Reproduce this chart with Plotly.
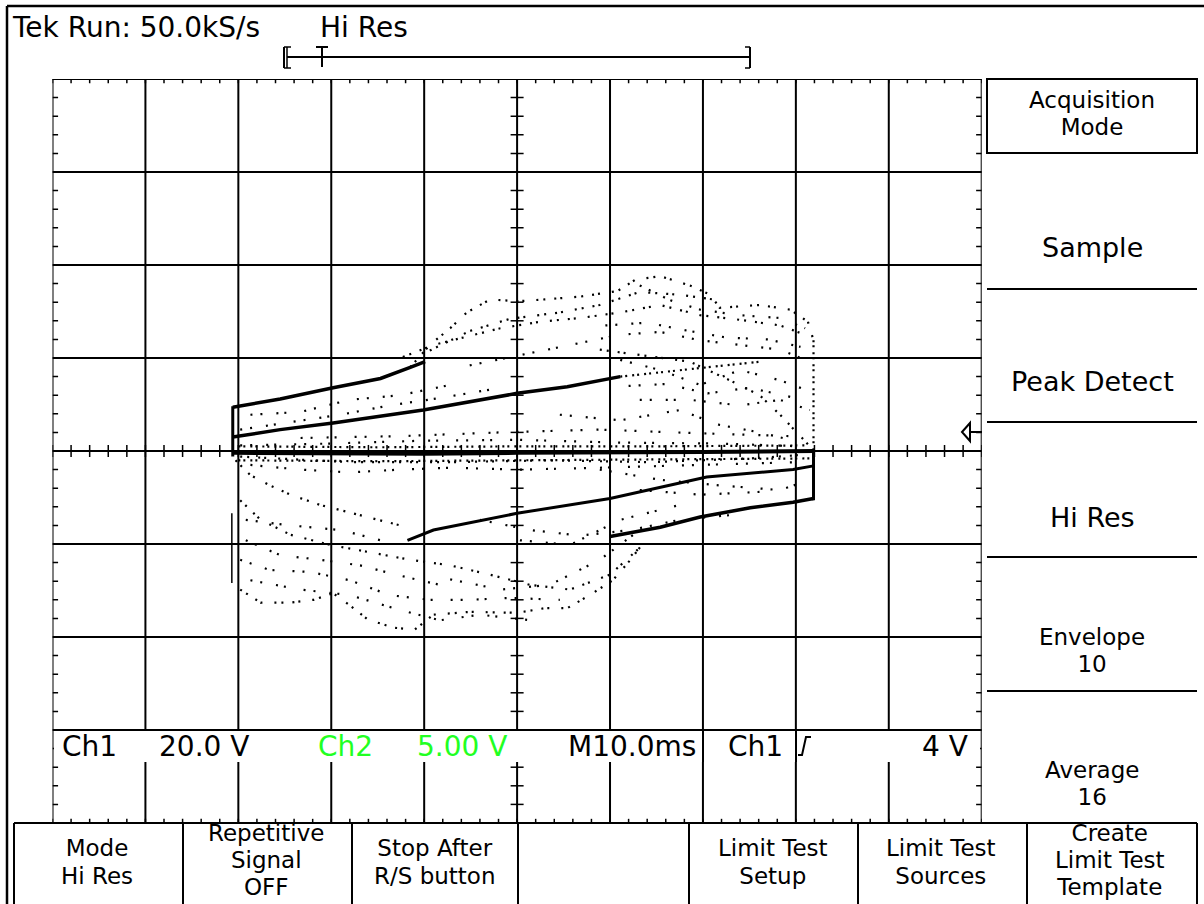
import plotly.graph_objects as go

W, H = 1204, 904
FONT = "DejaVu Sans"
INK = "#000000"
GREEN = "#22ff22"

# ---------------- X-Y display data (graticule divisions: X = Ch1, Y = Ch2) ----------------
# dense traces
axis_trace_x = [-3.06, -2.00, -1.00, 0.00, 1.00, 2.00, 3.20]
axis_trace_y = [-0.02, -0.03, -0.03, -0.02, -0.02, -0.01, 0.00]
axis_fringe_hi_x = [-3.00, -1.50, 0.00, 1.50, 3.10]
axis_fringe_hi_y = [0.05, 0.04, 0.05, 0.05, 0.06]
axis_fringe_lo_x = [-3.00, -1.50, 0.00, 1.50, 3.15]
axis_fringe_lo_y = [-0.10, -0.11, -0.10, -0.09, -0.08]

left_edge_hi_x = [-3.06, -3.06]
left_edge_hi_y = [0.48, -0.06]
left_edge_lo_x = [-3.07, -3.07]
left_edge_lo_y = [-0.67, -1.42]
right_edge_lo_x = [3.19, 3.19]
right_edge_lo_y = [0.02, -0.53]
right_edge_hi_x = [3.19, 3.19]
right_edge_hi_y = [1.19, 0.02]

upper_top_x = [-3.06, -2.55, -1.98, -1.47, -1.15, -0.99]
upper_top_y = [0.47, 0.56, 0.68, 0.78, 0.90, 0.96]
upper_mid_x = [-3.06, -2.55, -1.98, -1.01, 0.00, 0.54, 1.11]
upper_mid_y = [0.15, 0.23, 0.30, 0.44, 0.62, 0.69, 0.80]
upper_mid_tail_x = [1.11, 1.97, 2.61]
upper_mid_tail_y = [0.80, 0.89, 0.96]
lower_mid_x = [-1.18, -0.90, 0.00, 1.00, 2.04, 2.97, 3.19]
lower_mid_y = [-0.96, -0.85, -0.67, -0.51, -0.28, -0.20, -0.16]
lower_bot_x = [1.00, 1.54, 1.97, 2.51, 2.97, 3.19]
lower_bot_y = [-0.92, -0.82, -0.71, -0.61, -0.55, -0.51]

# scattered point clouds (traced as dotted paths)
upper_env_x = [-1.15, -0.94, -0.72, -0.54, -0.29, 0.00, 0.30, 0.68, 1.08, 1.27, 1.54, 1.86, 2.08, 2.18, 2.61, 2.94, 3.13, 3.19]
upper_env_y = [0.90, 1.14, 1.32, 1.49, 1.63, 1.61, 1.63, 1.66, 1.72, 1.84, 1.88, 1.78, 1.68, 1.54, 1.57, 1.52, 1.39, 1.19]
cloud_u1_x = [-1.23, -0.90, -0.54, -0.18, 0.25, 0.68, 1.11, 1.54, 1.97, 2.40, 2.83, 3.10]
cloud_u1_y = [1.01, 1.14, 1.23, 1.32, 1.39, 1.43, 1.49, 1.57, 1.46, 1.41, 1.35, 1.25]
cloud_u2_x = [-0.51, 0.03, 0.57, 1.11, 1.54, 1.97, 2.40, 2.83, 3.10]
cloud_u2_y = [0.92, 1.03, 1.14, 1.25, 1.28, 1.19, 1.14, 1.09, 0.98]
cloud_u3_x = [0.89, 1.32, 1.86, 2.29, 2.61, 2.83, 3.04, 3.17]
cloud_u3_y = [1.09, 1.03, 0.96, 0.76, 0.60, 0.39, 0.17, 0.03]
cloud_u4_x = [0.46, 1.11, 1.75, 2.18, 2.61, 2.94]
cloud_u4_y = [0.39, 0.33, 0.44, 0.28, 0.20, 0.12]
cloud_u5_x = [-2.87, -2.33, -1.80, -1.26, -0.72]
cloud_u5_y = [0.39, 0.42, 0.55, 0.60, 0.71]
cloud_u6_x = [-2.98, -2.01, -1.04, 0.03, 1.11, 2.18, 3.04]
cloud_u6_y = [0.06, 0.08, 0.11, 0.12, 0.09, 0.08, 0.05]
cloud_u7_x = [-0.94, -0.51, -0.08, 0.46, 0.89, 1.32, 1.75, 2.18]
cloud_u7_y = [1.08, 1.29, 1.42, 1.49, 1.57, 1.71, 1.68, 1.62]
cloud_u8_x = [1.32, 1.65, 1.97, 2.40, 2.83, 3.10]
cloud_u8_y = [1.78, 1.62, 1.52, 1.46, 1.43, 1.32]
cloud_u9_x = [1.11, 1.54, 1.97, 2.40, 2.83, 3.10]
cloud_u9_y = [0.98, 0.87, 0.71, 0.87, 0.76, 0.66]
cloud_u10_x = [1.32, 1.86, 2.40, 2.83, 3.15]
cloud_u10_y = [0.55, 0.55, 0.49, 0.55, 0.44]
cloud_u11_x = [-2.98, -2.44, -1.90, -1.37, -0.83, -0.29]
cloud_u11_y = [0.23, 0.31, 0.39, 0.49, 0.57, 0.66]
cloud_u12_x = [-2.33, -1.26, -0.18, 0.89, 1.97, 2.94]
cloud_u12_y = [0.14, 0.16, 0.20, 0.23, 0.19, 0.16]
cloud_u13_x = [0.95, 1.40, 1.80, 2.25, 2.70, 3.05]
cloud_u13_y = [1.35, 1.38, 1.30, 1.22, 1.20, 1.12]
cloud_u14_x = [1.20, 1.60, 2.05, 2.50, 2.95]
cloud_u14_y = [0.70, 0.72, 0.62, 0.68, 0.58]

lower_env_x = [-2.98, -2.76, -2.44, -2.19, -1.98, -1.80, -1.61, -1.33, -1.10, -0.90, -0.51, 0.00, 0.30, 0.54, 0.78, 1.03, 1.22, 1.38]
lower_env_y = [-1.49, -1.63, -1.63, -1.60, -1.53, -1.66, -1.81, -1.90, -1.92, -1.76, -1.73, -1.74, -1.69, -1.69, -1.55, -1.39, -1.17, -0.96]
cloud_l1_x = [-3.03, -2.87, -2.66, -2.44, -2.12, -1.69, -1.26]
cloud_l1_y = [-0.10, -0.26, -0.37, -0.47, -0.58, -0.69, -0.80]
cloud_l2_x = [-2.98, -2.76, -2.44, -2.01, -1.58, -1.15, -0.72, -0.29, 0.14, 0.57, 1.00, 1.32]
cloud_l2_y = [-0.53, -0.74, -0.90, -1.01, -1.09, -1.17, -1.23, -1.33, -1.44, -1.49, -1.33, -1.04]
cloud_l3_x = [-2.98, -2.66, -2.23, -1.80, -1.37, -0.94, -0.51, -0.08, 0.46]
cloud_l3_y = [-1.17, -1.28, -1.30, -1.39, -1.55, -1.60, -1.60, -1.58, -1.60]
cloud_l4_x = [-2.98, -1.80, -0.72, 0.35, 1.43, 2.51, 3.10]
cloud_l4_y = [-0.06, -0.12, -0.12, -0.10, -0.12, -0.08, -0.04]
cloud_l5_x = [0.89, 1.54, 2.18, 2.83, 3.15]
cloud_l5_y = [-0.20, -0.31, -0.37, -0.42, -0.31]
cloud_l6_x = [-0.40, 0.14, 0.68, 1.22, 1.75, 2.29]
cloud_l6_y = [-0.74, -0.85, -0.91, -0.85, -0.74, -0.69]
cloud_l7_x = [-2.92, -2.55, -2.12, -1.69, -1.26, -0.83]
cloud_l7_y = [-0.96, -1.12, -1.17, -1.23, -1.34, -1.44]
cloud_l8_x = [-2.87, -2.33, -1.80, -1.26, -0.72, 0.03, 0.89, 1.97, 3.04]
cloud_l8_y = [-0.15, -0.20, -0.23, -0.20, -0.18, -0.20, -0.18, -0.15, -0.12]
cloud_l9_x = [-2.92, -2.44, -1.90, -1.47]
cloud_l9_y = [-0.74, -0.80, -0.85, -0.96]
cloud_l10_x = [-2.87, -2.33, -1.80, -1.26, -0.83, -0.40, 0.14]
cloud_l10_y = [-1.39, -1.49, -1.55, -1.71, -1.82, -1.76, -1.82]
cloud_l11_x = [-0.72, -0.18, 0.35, 0.89, 1.32]
cloud_l11_y = [-1.38, -1.49, -1.44, -1.17, -0.85]
cloud_l12_x = [0.03, 0.57, 1.11, 1.75]
cloud_l12_y = [-0.96, -1.01, -0.74, -0.58]
cloud_l13_x = [1.32, 1.97, 2.61]
cloud_l13_y = [-0.42, -0.47, -0.44]

# ---------------- text content ----------------
status_text = "Tek Run: 50.0kS/s"
mode_text = "Hi Res"
readouts = ["Ch1", "20.0 V", "Ch2", "5.00 V", "M10.0ms", "Ch1", "4 V"]
side_menu = [["Acquisition", "Mode"], ["Sample"], ["Peak Detect"], ["Hi Res"], ["Envelope", "10"], ["Average", "16"]]
bottom_menu = [["Mode", "Hi Res"], ["Repetitive", "Signal", "OFF"], ["Stop After", "R/S button"], [],
               ["Limit Test", "Setup"], ["Limit Test", "Sources"], ["Create", "Limit Test", "Template"]]

# ---------------- figure ----------------
fig = go.Figure()

def add_path(x, y, width, dash="solid"):
    fig.add_trace(go.Scatter(x=x, y=y, mode="lines", hoverinfo="skip", showlegend=False,
                             line=dict(color=INK, width=width, dash=dash)))

DENSE = "2px,3px,2px,5px"
CLOUD = "2px,5px,2px,9px,2px,4px,2px,12px"
SPARSE = "2px,8px,2px,14px,2px,6px,2px,18px"

clouds = [
    (upper_env_x, upper_env_y, CLOUD), (cloud_u1_x, cloud_u1_y, CLOUD), (cloud_u2_x, cloud_u2_y, SPARSE),
    (cloud_u3_x, cloud_u3_y, CLOUD), (cloud_u4_x, cloud_u4_y, SPARSE), (cloud_u5_x, cloud_u5_y, SPARSE),
    (cloud_u6_x, cloud_u6_y, SPARSE), (cloud_u7_x, cloud_u7_y, CLOUD), (cloud_u8_x, cloud_u8_y, SPARSE),
    (cloud_u9_x, cloud_u9_y, SPARSE), (cloud_u10_x, cloud_u10_y, SPARSE), (cloud_u11_x, cloud_u11_y, SPARSE),
    (cloud_u12_x, cloud_u12_y, SPARSE), (cloud_u13_x, cloud_u13_y, SPARSE), (cloud_u14_x, cloud_u14_y, SPARSE),
    (lower_env_x, lower_env_y, CLOUD), (cloud_l1_x, cloud_l1_y, CLOUD), (cloud_l2_x, cloud_l2_y, CLOUD),
    (cloud_l3_x, cloud_l3_y, SPARSE), (cloud_l4_x, cloud_l4_y, CLOUD), (cloud_l5_x, cloud_l5_y, SPARSE),
    (cloud_l6_x, cloud_l6_y, SPARSE), (cloud_l7_x, cloud_l7_y, SPARSE), (cloud_l8_x, cloud_l8_y, SPARSE),
    (cloud_l9_x, cloud_l9_y, SPARSE), (cloud_l10_x, cloud_l10_y, SPARSE), (cloud_l11_x, cloud_l11_y, SPARSE),
    (cloud_l12_x, cloud_l12_y, SPARSE), (cloud_l13_x, cloud_l13_y, SPARSE),
    (upper_mid_tail_x, upper_mid_tail_y, DENSE), (right_edge_hi_x, right_edge_hi_y, DENSE),
    (axis_fringe_hi_x, axis_fringe_hi_y, DENSE), (axis_fringe_lo_x, axis_fringe_lo_y, DENSE),
]
for cx, cy, d in clouds:
    add_path(cx, cy, 2.2, d)

# dense traces
add_path(axis_trace_x, axis_trace_y, 4)
add_path(left_edge_hi_x, left_edge_hi_y, 3)
add_path(left_edge_lo_x, left_edge_lo_y, 1.5)
add_path(right_edge_lo_x, right_edge_lo_y, 3)
add_path(upper_top_x, upper_top_y, 3.5)
add_path(upper_mid_x, upper_mid_y, 3.5)
add_path(lower_mid_x, lower_mid_y, 3)
add_path(lower_bot_x, lower_bot_y, 3.5)

shapes = []

def dline(x0, y0, x1, y1, w=2, layer="below"):
    shapes.append(dict(type="line", xref="x", yref="y", x0=x0, y0=y0, x1=x1, y1=y1,
                       line=dict(color=INK, width=w), layer=layer))

def pline(x0, y0, x1, y1, w=2):
    shapes.append(dict(type="line", xref="paper", yref="paper", x0=x0 / W, y0=1 - y0 / H,
                       x1=x1 / W, y1=1 - y1 / H, line=dict(color=INK, width=w), layer="above"))

# graticule
for i in range(-5, 6):
    dline(i, -4, i, 4)
for j in range(-4, 5):
    dline(-5, j, 5, j)
for k in range(-25, 26):
    t = k * 0.2
    dline(t, -0.065, t, 0.065, 1.5)
    dline(t, 4, t, 3.955, 1.5)
    dline(t, -4, t, -3.955, 1.5)
for k in range(-20, 21):
    t = k * 0.2
    dline(-0.07, t, 0.07, t, 1.5)
    dline(-5, t, -4.94, t, 1.5)
    dline(5, t, 4.94, t, 1.5)

# readout band (hides graticule behind the readout text)
shapes.append(dict(type="rect", xref="paper", yref="paper", x0=54 / W, x1=980 / W,
                   y0=1 - 762 / H, y1=1 - 731 / H, fillcolor="white", line=dict(width=0), layer="above"))
pline(703, 731, 703, 762, 2)
pline(796, 731, 796, 762, 2)
# trigger slope glyph
shapes.append(dict(type="path", xref="paper", yref="paper", layer="above",
                   path="M %f %f L %f %f L %f %f L %f %f" % (798 / W, 1 - 755 / H, 802 / W, 1 - 755 / H,
                                                            806 / W, 1 - 737 / H, 811 / W, 1 - 737 / H),
                   line=dict(color=INK, width=2)))

# trigger level arrow
shapes.append(dict(type="path", xref="paper", yref="paper", layer="above",
                   path="M %f %f L %f %f L %f %f Z" % (962 / W, 1 - 432 / H, 970 / W, 1 - 423 / H, 970 / W, 1 - 441 / H),
                   line=dict(color=INK, width=2), fillcolor="white"))
pline(970, 432, 982, 432, 2)

# outer frame
pline(7, 6, 7, 904, 2.5)
pline(7, 6, 1204, 6, 2.5)

# record bar
pline(284, 47, 284, 68, 2)
pline(287, 47, 287, 68, 1.5)
pline(284, 47, 291, 47, 1.5)
pline(284, 68, 291, 68, 1.5)
pline(287, 57, 750, 57, 2)
pline(750, 47, 750, 68, 2)
pline(745, 47, 750, 47, 1.5)
pline(745, 68, 750, 68, 1.5)
pline(316, 47, 328, 47, 2)
pline(322, 47, 322, 67, 2)

# side menu box and separators
shapes.append(dict(type="rect", xref="paper", yref="paper", x0=987 / W, x1=1197 / W,
                   y0=1 - 153 / H, y1=1 - 79 / H, line=dict(color=INK, width=2), layer="above"))
for ys in [289, 422, 557, 691]:
    pline(987, ys, 1197, ys, 2)

# bottom menu boxes
pline(14, 823, 1197, 823, 2)
for xs in [14, 183, 352, 518, 689, 858, 1027, 1197]:
    pline(xs, 823, xs, 904, 2)

annotations = []

def txt(lines, x, y, anchor="center", color=INK, size=27, gap=27):
    base = gap / 1.3
    body = "<br>".join("<span style='font-size:%dpx'>%s</span>" % (size, s) for s in lines)
    annotations.append(dict(text=body, x=x / W, y=1 - y / H, xref="paper", yref="paper",
                            xanchor=anchor, yanchor="middle", showarrow=False, align="center",
                            font=dict(family=FONT, size=base, color=color)))

txt([status_text], 10, 27, "left", size=28)
txt([mode_text], 318, 27, "left", size=28)

readout_pos = [(60, "left", INK), (157, "left", INK), (316, "left", GREEN), (415, "left", GREEN),
               (566, "left", INK), (726, "left", INK), (970, "right", INK)]
for s, (xp, an, col) in zip(readouts, readout_pos):
    txt([s], xp, 746, an, col, size=28)

side_mid = [113, 248, 382, 517, 650, 783]
for lines, ym in zip(side_menu, side_mid):
    txt(lines, 1092, ym, size=23 if len(lines) > 1 else 27, gap=27)

bottom_x = [97, 266, 435, 603, 773, 941, 1110]
for lines, xv in zip(bottom_menu, bottom_x):
    if not lines:
        continue
    txt(lines, xv, 862 if len(lines) == 2 else 860, size=23, gap=27 if len(lines) == 3 else 28)

fig.update_layout(
    width=W, height=H, margin=dict(l=0, r=0, t=0, b=0),
    paper_bgcolor="white", plot_bgcolor="white", showlegend=False,
    xaxis=dict(domain=[52.5 / W, 981.7 / W], range=[-5, 5], visible=False, fixedrange=True),
    yaxis=dict(domain=[1 - 823 / H, 1 - 79 / H], range=[-4, 4], visible=False, fixedrange=True),
    shapes=shapes, annotations=annotations,
)

fig.write_html("out.html", config={"displayModeBar": False},
               post_script="document.body.style.margin='0px';document.body.style.overflow='hidden';")
